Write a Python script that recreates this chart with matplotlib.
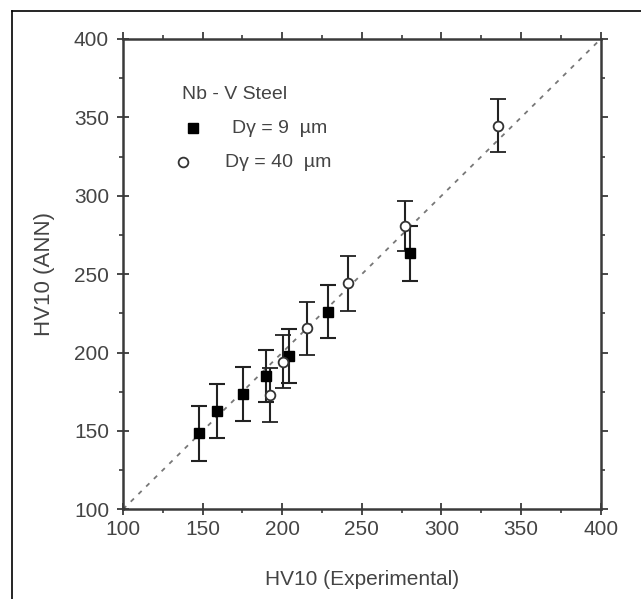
import matplotlib
matplotlib.use("Agg")
import matplotlib.pyplot as plt
from matplotlib.lines import Line2D
from matplotlib.ticker import MultipleLocator

# Data: Nb-V steel, HV10 experimental vs ANN prediction
exp_9um = [147.7, 158.9, 175.2, 189.6, 204.5, 228.6, 280.5]
ann_9um = [148.5, 162.7, 173.5, 185.2, 197.8, 226.0, 263.4]
err_9um = [17.5, 17.5, 17.0, 16.5, 17.0, 17.0, 17.5]

exp_40um = [192.3, 200.3, 215.8, 241.5, 277.4, 335.4]
ann_40um = [172.9, 194.2, 215.5, 244.2, 280.8, 344.6]
err_40um = [17.5, 17.0, 17.0, 17.5, 16.0, 17.0]

diag = [100, 400]
xticks = [100, 150, 200, 250, 300, 350, 400]
yticks = [100, 150, 200, 250, 300, 350, 400]
legend_title = 'Nb - V Steel'
legend_labels = ['D\u03b3 = 9  \u00b5m', 'D\u03b3 = 40  \u00b5m']

plt.rcParams['font.family'] = ['Liberation Sans', 'DejaVu Sans']

W, H = 641, 599
fig = plt.figure(figsize=(W / 100, H / 100), dpi=100)
fig.patch.set_facecolor('white')

# partial outer frame (left and top edges)
fig.add_artist(Line2D([12 / W, 12 / W], [0, 1 - 11 / H], transform=fig.transFigure,
                      color='black', lw=1.2))
fig.add_artist(Line2D([12 / W, 1], [1 - 11 / H, 1 - 11 / H], transform=fig.transFigure,
                      color='black', lw=1.2))

ax = fig.add_axes([123 / W, 1 - 509.3 / H, (600.7 - 123) / W, (509.3 - 39) / H])
ax.set_xlim(100, 400)
ax.set_ylim(100, 400)

axc = '#3a3a3a'
txtc = '#444444'

ax.plot(diag, diag, linestyle=(0, (2.5, 3.5)), color='#777777', lw=1.3, zorder=1)

ax.errorbar(exp_9um, ann_9um, yerr=err_9um, fmt='s', color='black', ms=7.5,
            mfc='black', mec='black', ecolor='#222222', elinewidth=1.5,
            capsize=6, capthick=1.5, zorder=3)
ax.errorbar(exp_40um, ann_40um, yerr=err_40um, fmt='o', color='#333333', ms=7,
            mfc='white', mec='#333333', mew=1.3, ecolor='#222222', elinewidth=1.5,
            capsize=6, capthick=1.5, zorder=3)

for s in ax.spines.values():
    s.set_color(axc)
    s.set_linewidth(1.8)

ax.set_xticks(xticks)
ax.set_yticks(yticks)
ax.xaxis.set_minor_locator(MultipleLocator(25))
ax.yaxis.set_minor_locator(MultipleLocator(25))
ax.tick_params(which='major', direction='inout', length=8, width=1.3, color=axc,
               labelsize=15, labelcolor=txtc, pad=6)
ax.tick_params(which='minor', direction='out', length=3, width=1.2, color=axc)
ax.tick_params(axis='x', which='major', pad=4)

# top / right ticks (outward)
top = ax.secondary_xaxis('top')
top.set_xticks(xticks)
top.xaxis.set_minor_locator(MultipleLocator(25))
top.tick_params(which='major', direction='out', length=5, width=1.3, color=axc, labeltop=False)
top.tick_params(which='minor', direction='out', length=3, width=1.2, color=axc)
top.spines['top'].set_visible(False)
right = ax.secondary_yaxis('right')
right.set_yticks(yticks)
right.yaxis.set_minor_locator(MultipleLocator(25))
right.tick_params(which='major', direction='out', length=5, width=1.3, color=axc, labelright=False)
right.tick_params(which='minor', direction='out', length=3, width=1.2, color=axc)
right.spines['right'].set_visible(False)

ax.set_xlabel('HV10 (Experimental)', fontsize=15, color=txtc, labelpad=22)
ax.set_ylabel('HV10 (ANN)', fontsize=16, color=txtc, labelpad=14)

# legend (placed in axes fraction coordinates)
ax.text(0.1235, 0.883, legend_title, transform=ax.transAxes, fontsize=14,
        color=txtc, va='center', ha='left')
ax.add_line(Line2D([0.1465], [0.8107], transform=ax.transAxes, marker='s',
                   linestyle='none', color='black', ms=7))
ax.text(0.228, 0.8107, legend_labels[0], transform=ax.transAxes, fontsize=14,
        color=txtc, va='center', ha='left')
ax.add_line(Line2D([0.1256], [0.7384], transform=ax.transAxes, marker='o',
                   linestyle='none', mfc='white', mec='#333333', mew=1.3, ms=7))
ax.text(0.2135, 0.7384, legend_labels[1], transform=ax.transAxes, fontsize=14,
        color=txtc, va='center', ha='left')

fig.savefig('out.png', dpi=100, facecolor='white')
